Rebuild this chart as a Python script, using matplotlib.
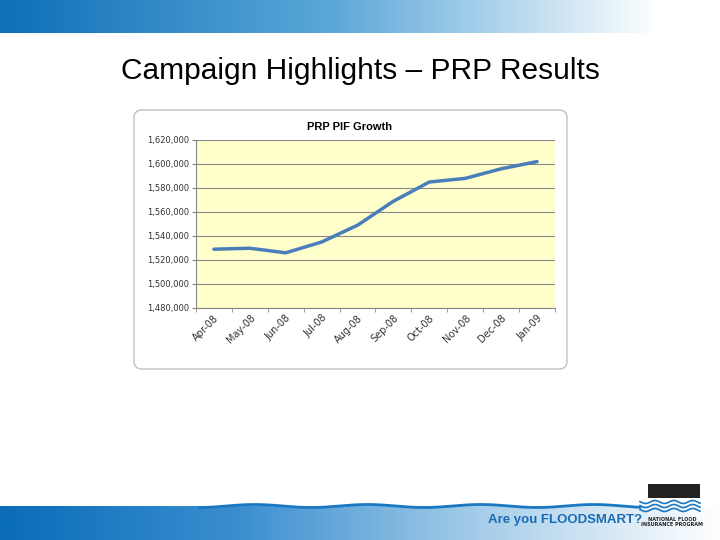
import matplotlib
matplotlib.use("Agg")
import matplotlib.pyplot as plt
import numpy as np
from matplotlib.patches import FancyBboxPatch, Rectangle
from matplotlib.colors import LinearSegmentedColormap

months = ["Apr-08","May-08","Jun-08","Jul-08","Aug-08","Sep-08","Oct-08","Nov-08","Dec-08","Jan-09"]
pif = [1529000,1529800,1526000,1535000,1549000,1569000,1585000,1588000,1596000,1602000]
yticks = list(range(1480000, 1620001, 20000))

fig = plt.figure(figsize=(7.2,5.4), dpi=100)
bg = fig.add_axes([0,0,1,1])
grad = np.linspace(0,1,256).reshape(1,-1)
cm = LinearSegmentedColormap.from_list('g',['#0f6fb8','#5aa7d8','#ffffff'])
bg.imshow(grad, extent=[0,660,33,0], aspect='auto', cmap=cm)
cm2 = LinearSegmentedColormap.from_list('g2',['#0a6cb8','#3b8fd0','#a6cde9','#ffffff'])
bg.imshow(grad, extent=[0,720,540,506], aspect='auto', cmap=cm2)
bg.set_xlim(0,720); bg.set_ylim(540,0); bg.axis('off')
bg.text(360,71,"Campaign Highlights – PRP Results", ha='center', va='center', fontsize=21.5, family='Liberation Sans')
bg.add_patch(FancyBboxPatch((134,110),433,259, boxstyle="round,pad=0,rounding_size=8", fc='white', ec='#c0c0c0', lw=1))
bg.text(350,127,"PRP PIF Growth", ha='center', va='center', fontsize=8, fontweight='bold', family='Liberation Sans')
xs = np.linspace(200,640,300)
bg.plot(xs, 506-1.5*np.sin(xs/18), color='#1a78c2', lw=2)
xs2 = np.linspace(640,700,100)
for k in range(3):
    bg.plot(xs2, 502+k*4+1.5*np.sin(xs2/3), color='#1a78c2', lw=1.2)
bg.text(565,520,"Are you FLOODSMART?", ha='center', va='center', fontsize=9.5, fontweight='bold', color='#1a6bb5', family='Liberation Sans')
bg.text(672,522,"NATIONAL FLOOD\nINSURANCE PROGRAM", ha='center', va='center', fontsize=3.5, fontweight='bold', color='#222')
bg.add_patch(Rectangle((648,484),52,14, fc='#222', ec='none'))

ax = fig.add_axes([196/720, 1-308/540, 359/720, 168/540])
ax.set_facecolor('#ffffcc')
x = np.arange(len(months))
ax.plot(x, pif, color='#4a7ebb', lw=2.5, solid_capstyle='round')
ax.set_xlim(-0.5, len(months)-0.5)
ax.set_ylim(1480000,1620000)
ax.set_yticks(yticks)
ax.set_yticklabels([f"{v:,}" for v in yticks], fontsize=6, color='#333')
ax.yaxis.grid(True, color='#888', lw=0.8)
ax.set_axisbelow(True)
ax.set_xticks(x)
ax.set_xticklabels(months, rotation=45, ha='right', rotation_mode='anchor', fontsize=7, color='#333')
ax.set_xticks(np.arange(-0.5, len(months)), minor=True)
ax.tick_params(axis='x', which='major', length=0)
ax.tick_params(axis='x', which='minor', length=3, color='#888')
ax.tick_params(axis='y', length=3, color='#888', pad=2)
for s in ['top','right']: ax.spines[s].set_visible(False)
for s in ['left','bottom']: ax.spines[s].set_color('#888')
fig.savefig("out.png", dpi=100)
